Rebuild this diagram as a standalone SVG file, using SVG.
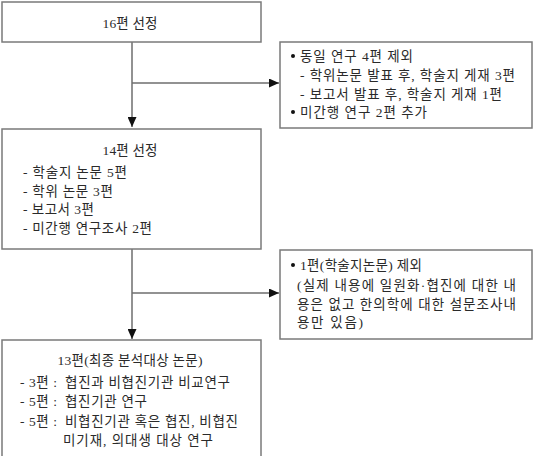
<svg xmlns="http://www.w3.org/2000/svg" width="533" height="456" viewBox="0 0 533 456">
<style>
.box{fill:#fff;stroke:#7a7a7a;stroke-width:1.5}
.ln{fill:none;stroke:#6e6e6e;stroke-width:1.5}
text{font-family:"Liberation Serif","Noto Sans CJK KR",serif;font-size:13.5px;fill:#2a2a2a}
.c{text-anchor:middle}
</style>
<defs>
<marker id="ah" markerUnits="userSpaceOnUse" markerWidth="10" markerHeight="9" refX="10" refY="4.5" orient="auto">
<path d="M0,0 L10,4.5 L0,9 z" fill="#111"/>
</marker>
</defs>
<rect width="533" height="456" fill="#fff"/>
<g id="connectors">
<line class="ln" x1="132" y1="42" x2="132" y2="127" marker-end="url(#ah)"/>
<line class="ln" x1="132" y1="83" x2="279" y2="83" marker-end="url(#ah)"/>
<line class="ln" x1="132" y1="249" x2="132" y2="339" marker-end="url(#ah)"/>
<line class="ln" x1="132" y1="293" x2="279" y2="293" marker-end="url(#ah)"/>
</g>
<g id="n1">
<rect class="box" x="2" y="2" width="259" height="40"/>
<text class="c" x="130" y="28" textLength="55" lengthAdjust="spacing">16편 선정</text>
</g>
<g id="n2">
<rect class="box" x="280" y="42" width="252" height="86"/>
<circle cx="293" cy="56" r="2" fill="#111"/>
<text x="300" y="61" textLength="113" lengthAdjust="spacing">동일 연구 4편 제외</text>
<text x="300" y="80" textLength="215" lengthAdjust="spacing">- 학위논문 발표 후, 학술지 게재 3편</text>
<text x="300" y="99" textLength="202" lengthAdjust="spacing">- 보고서 발표 후, 학술지 게재 1편</text>
<circle cx="293" cy="112" r="2" fill="#111"/>
<text x="300" y="117" textLength="127" lengthAdjust="spacing">미간행 연구 2편 추가</text>
</g>
<g id="n3">
<rect class="box" x="2" y="129" width="259" height="120"/>
<text class="c" x="130" y="155" textLength="55" lengthAdjust="spacing">14편 선정</text>
<text x="23" y="177" textLength="104" lengthAdjust="spacing">- 학술지 논문 5편</text>
<text x="23" y="196" textLength="90" lengthAdjust="spacing">- 학위 논문 3편</text>
<text x="23" y="214" textLength="71" lengthAdjust="spacing">- 보고서 3편</text>
<text x="23" y="233" textLength="129" lengthAdjust="spacing">- 미간행 연구조사 2편</text>
</g>
<g id="n4">
<rect class="box" x="280" y="250" width="252" height="89"/>
<circle cx="293" cy="265" r="2" fill="#111"/>
<text x="300" y="270" textLength="122" lengthAdjust="spacing">1편(학술지논문) 제외</text>
<text x="297" y="290" textLength="219" lengthAdjust="spacing">(실제 내용에 일원화·협진에 대한 내</text>
<text x="297" y="309" textLength="219" lengthAdjust="spacing">용은 없고 한의학에 대한 설문조사내</text>
<text x="297" y="327" textLength="66" lengthAdjust="spacing">용만 있음)</text>
</g>
<g id="n5">
<rect class="box" x="2" y="340" width="259" height="120"/>
<text class="c" x="130" y="365" textLength="145" lengthAdjust="spacing">13편(최종 분석대상 논문)</text>
<text x="20" y="387" textLength="37" lengthAdjust="spacing">- 3편 :</text>
<text x="65" y="387" textLength="165" lengthAdjust="spacing">협진과 비협진기관 비교연구</text>
<text x="20" y="406" textLength="37" lengthAdjust="spacing">- 5편 :</text>
<text x="65" y="406" textLength="82" lengthAdjust="spacing">협진기관 연구</text>
<text x="20" y="426" textLength="37" lengthAdjust="spacing">- 5편 :</text>
<text x="65" y="426" textLength="173" lengthAdjust="spacing">비협진기관 혹은 협진, 비협진</text>
<text x="63" y="445" textLength="150" lengthAdjust="spacing">미기재, 의대생 대상 연구</text>
</g>
</svg>
